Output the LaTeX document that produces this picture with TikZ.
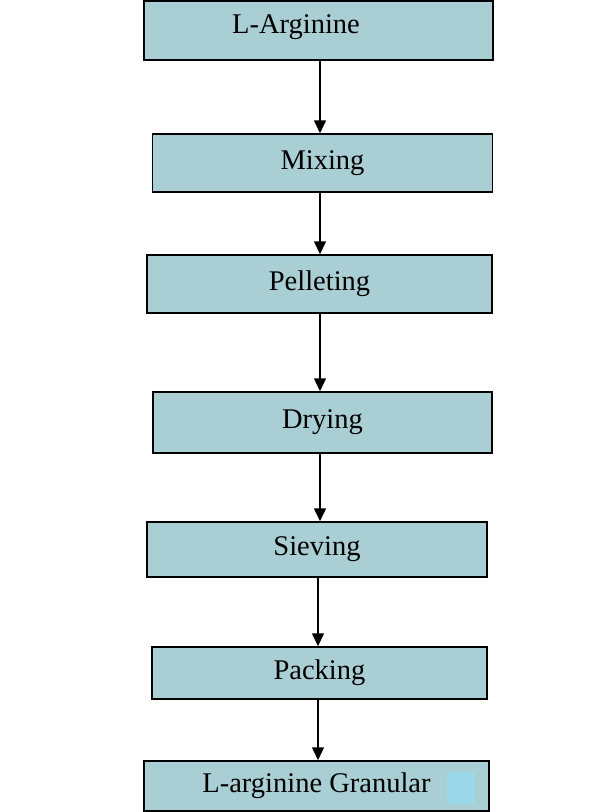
\documentclass[tikz,border=0pt]{standalone}
\usepackage{fontspec}
\setmainfont{Liberation Serif}
\usetikzlibrary{arrows.meta}

\definecolor{stagefill}{RGB}{169,206,211}
\definecolor{markfill}{RGB}{157,216,234}

\tikzset{
    stagebox/.style={draw=black, line width=1.5pt, fill=stagefill, rectangle,
        inner sep=0pt, font=\fontsize{28.5}{31}\selectfont},
    flow/.style={line width=1.5pt, black, -{Triangle[length=13pt,width=12pt]}}
}

\begin{document}
\begin{tikzpicture}[x=1pt,y=1pt]

    % Fix the viewbox to the size of the picture
    \useasboundingbox (0,0) rectangle (597,-812);

    % Axes of the arrows
    \coordinate (axis) at (320,0);
    \coordinate (axislow) at (318,0);

    % Starting material (its text sits left of the centre)
    \node[stagebox, minimum width=349pt, minimum height=59pt] (arg) at (318.5,-30.5) {};
    \node[font=\fontsize{28.5}{31}\selectfont, inner sep=0pt] (argtext) at (296,-27) {L-Arginine};

    % Process steps
    \node[stagebox, minimum width=340pt, minimum height=58pt] (mix) at (322.5,-163) {Mixing};
    \node[stagebox, minimum width=345pt, minimum height=58pt] (pel) at (319.5,-284) {Pelleting};
    \node[stagebox, minimum width=339pt, minimum height=61pt] (dry) at (322.5,-422.5) {Drying};
    \node[stagebox, minimum width=340pt, minimum height=55pt] (sie) at (317,-549.5) {Sieving};
    \node[stagebox, minimum width=335pt, minimum height=52pt] (pac) at (319.5,-673) {Packing};

    % Final product
    \node[stagebox, minimum width=345pt, minimum height=50pt] (gran) at (316.5,-786) {L-arginine Granular};

    % Small light square in the right of the last box
    \fill[markfill] (447,-772) rectangle (475,-804);

    % Arrows between the steps
    \draw[flow] (arg.south -| axis) -- (mix.north -| axis);
    \draw[flow] (mix.south -| axis) -- (pel.north -| axis);
    \draw[flow] (pel.south -| axis) -- (dry.north -| axis);
    \draw[flow] (dry.south -| axis) -- (sie.north -| axis);
    \draw[flow] (sie.south -| axislow) -- (pac.north -| axislow);
    \draw[flow] (pac.south -| axislow) -- (gran.north -| axislow);

\end{tikzpicture}
\end{document}
